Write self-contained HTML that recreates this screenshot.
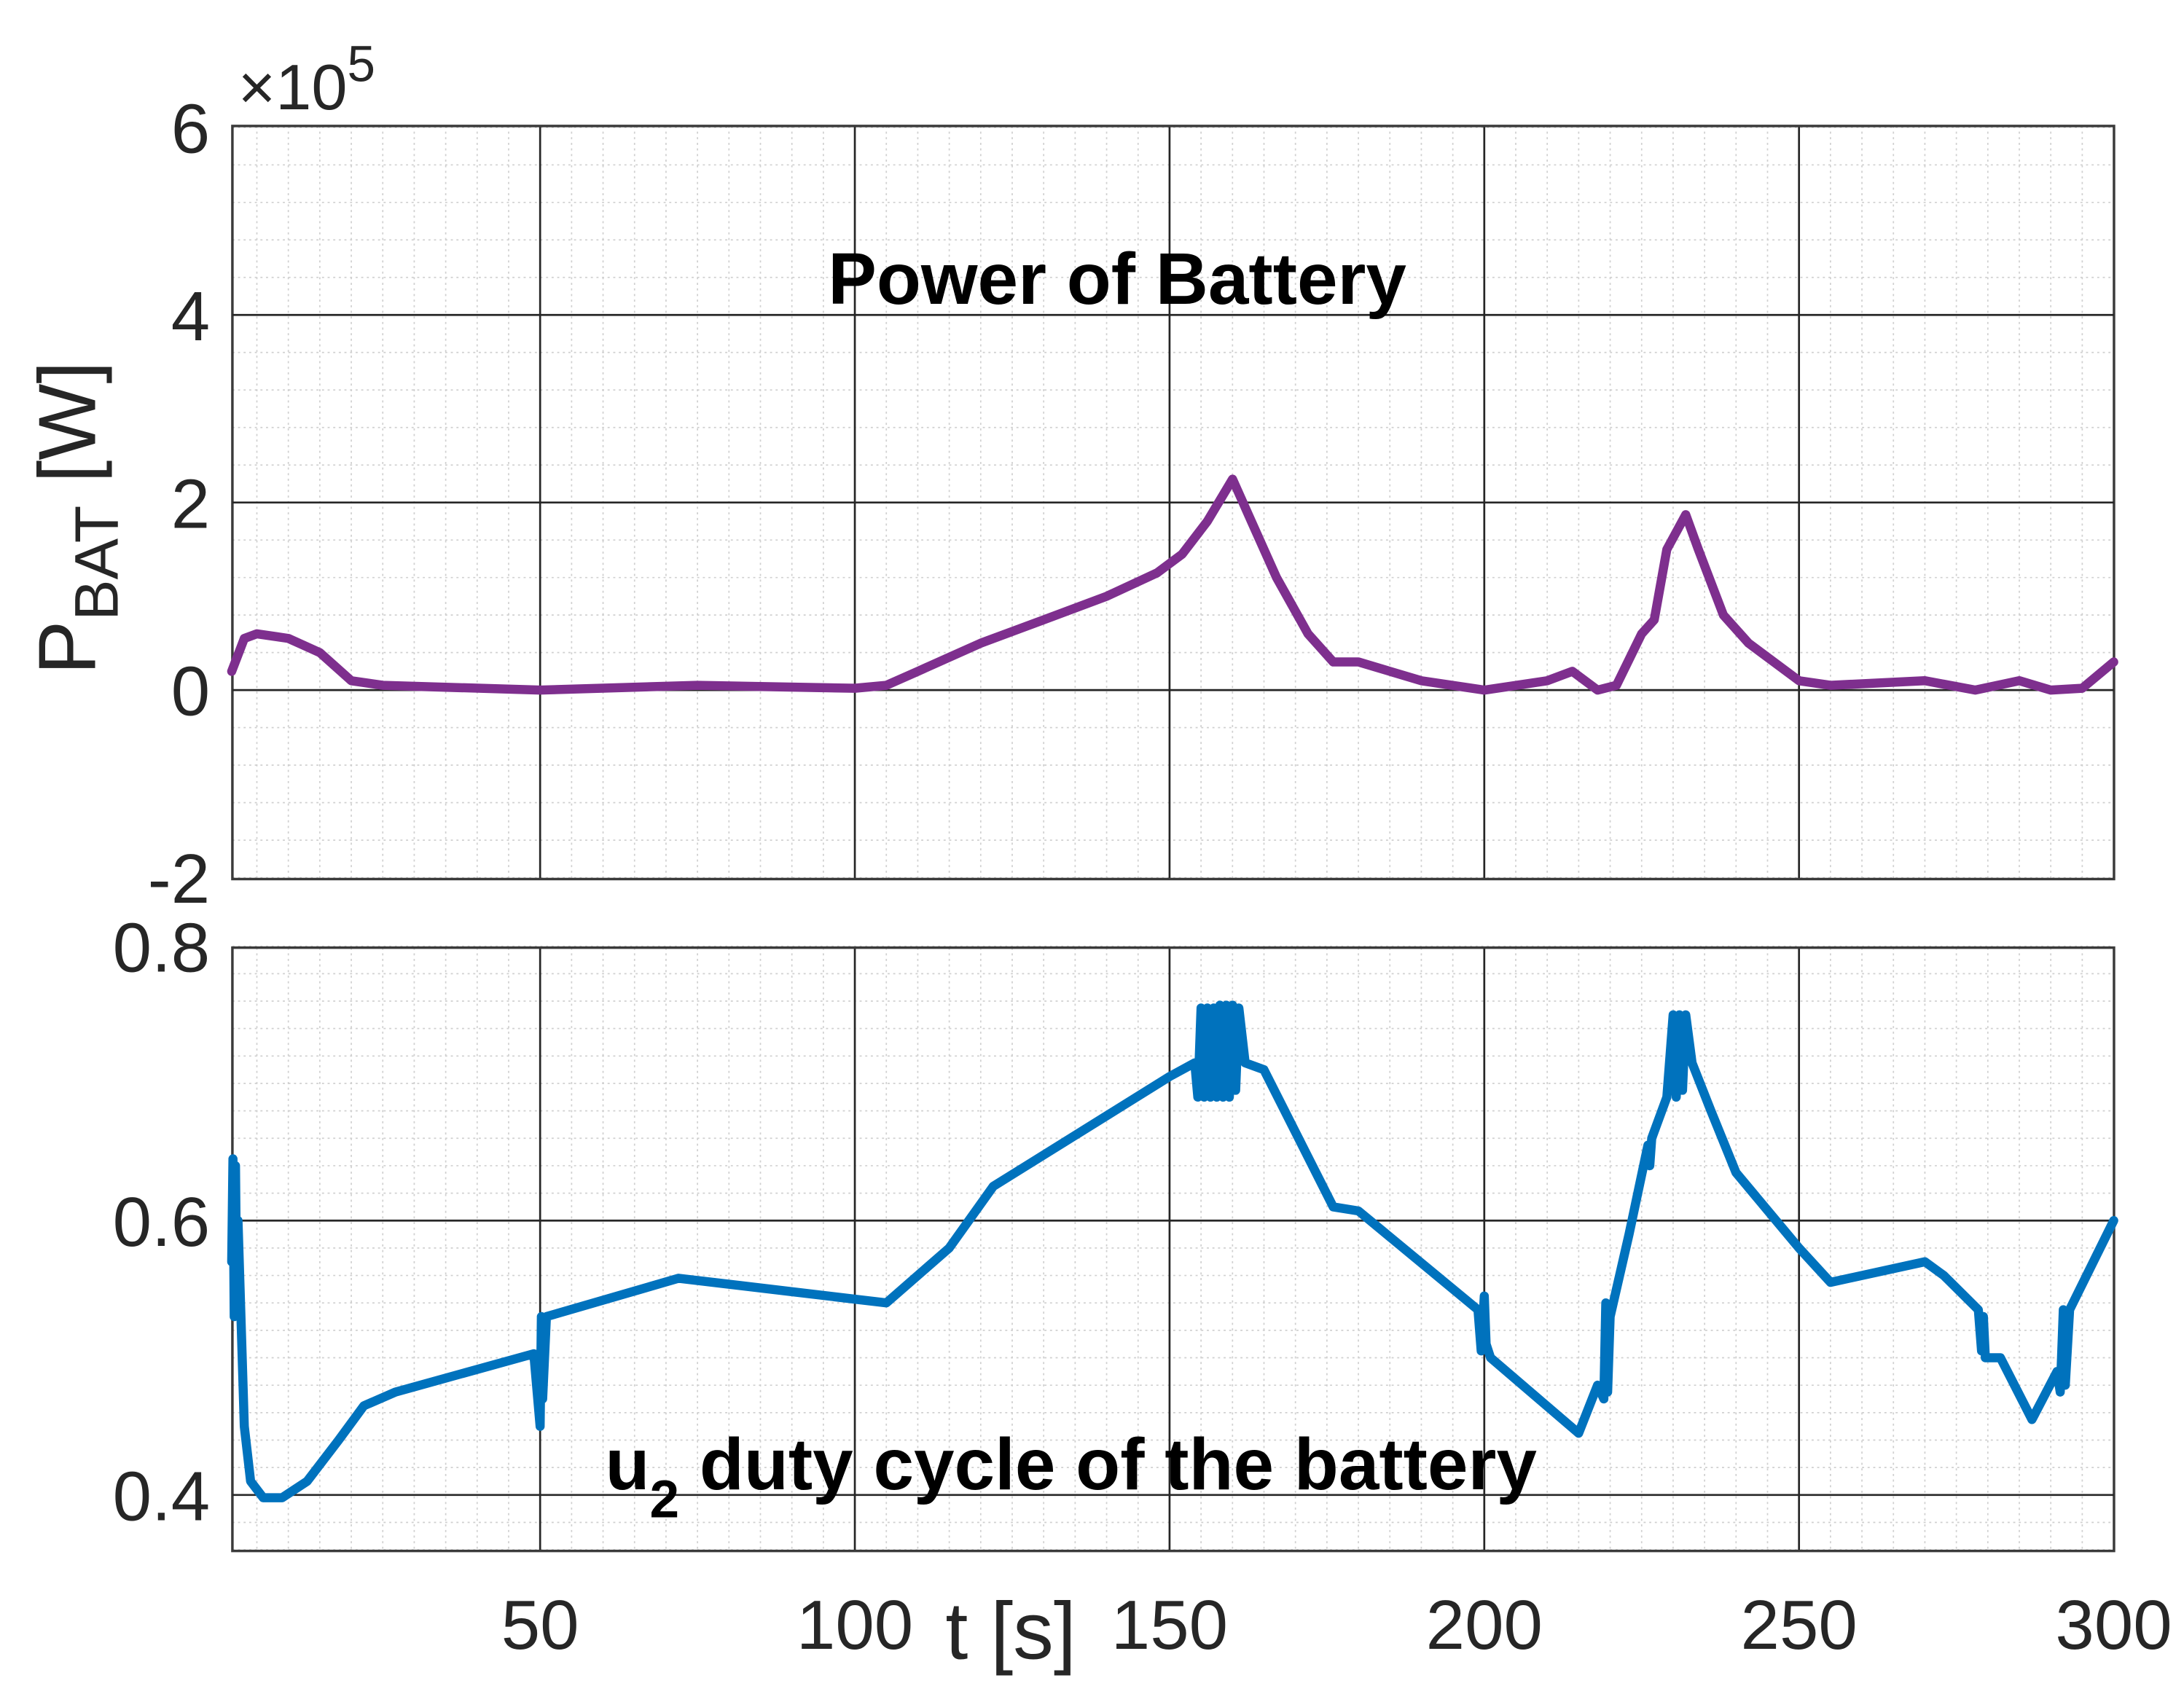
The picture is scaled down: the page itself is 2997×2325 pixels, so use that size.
<!DOCTYPE html>
<html><head><meta charset="utf-8"><style>
html,body{margin:0;padding:0;background:#fff;}
svg{display:block;}
text{font-family:"Liberation Sans",Arial,sans-serif;}
</style></head><body>
<svg id="chart" width="2997" height="2325" viewBox="0 0 1560 1210.2" xmlns="http://www.w3.org/2000/svg">
<g id="grid"></g>
<g id="series"></g>
<g id="labels"></g>
</svg>
<script>
// ---- data ----
const xTicks = [50,100,150,200,250,300];
const topYTicks = [-2,0,2,4,6];
const botYTicks = [0.4,0.6,0.8];
const botYTickLabels = ["0.4","0.6","0.8"];
const pT = [1,3,5,10,15,20,25,50,75,100,105,110,120,130,140,148,152,156,160,163,167,172,176,180,190,200,210,214,218,221,225,227,229,232,234,238,242,250,255,270,278,285,290,295,300];
const pV = [0.2,0.55,0.6,0.55,0.4,0.1,0.05,0,0.05,0.02,0.05,0.2,0.5,0.75,1.0,1.25,1.45,1.8,2.25,1.8,1.2,0.6,0.3,0.3,0.1,0,0.1,0.2,0,0.05,0.6,0.75,1.5,1.87,1.5,0.8,0.5,0.1,0.05,0.1,0,0.1,0,0.02,0.3];
const uT = [1,1.2,1.4,1.6,1.8,2,3,4,6,9,13,18,22,27,49,50,50.2,50.4,51,72,105,115,122,150,154,154.5,155,155.5,156,156.5,157,157.5,158,158.5,159,159.5,160,160.5,161,162,165,176,180,199,199.5,200,200.3,201,215,218,219,219.3,219.6,220,223,226,226.3,226.6,229,230,230.5,231,231.5,232,233,236,240,250,255,270,273,278.5,279,279.3,279.6,282,287,291,291.5,292,292.3,293,300];
const uV = [0.57,0.645,0.53,0.64,0.54,0.6,0.45,0.41,0.398,0.398,0.41,0.44,0.465,0.475,0.503,0.45,0.53,0.47,0.53,0.558,0.54,0.58,0.625,0.705,0.715,0.69,0.755,0.69,0.755,0.69,0.755,0.69,0.757,0.69,0.757,0.69,0.757,0.695,0.755,0.715,0.71,0.61,0.607,0.535,0.505,0.545,0.51,0.5,0.445,0.48,0.47,0.54,0.475,0.53,0.59,0.655,0.64,0.66,0.69,0.75,0.69,0.75,0.695,0.75,0.715,0.68,0.635,0.58,0.555,0.57,0.56,0.535,0.505,0.53,0.5,0.5,0.455,0.49,0.475,0.535,0.48,0.535,0.6];

const NS="http://www.w3.org/2000/svg";
const L=166,R=1510;
const xs=t=>161+t*4.496;
const yTop=v=>493-v*67;
const yBot=v=>872-(v-0.6)*980;
const T1=90,B1=628,T2=677,B2=1108;
function mk(tag,attrs,parent){const e=document.createElementNS(NS,tag);for(const k in attrs)e.setAttribute(k,attrs[k]);parent.appendChild(e);return e;}
const grid=document.getElementById('grid'),series=document.getElementById('series'),labels=document.getElementById('labels');

function panel(top,bot,yfn,ymin,ymax,minorStep,name){
  for(let t=5;t<300;t+=5){const x=xs(t);if(x<=L)continue;if(t%50===0)continue;
    const g=mk('line',{x1:x,x2:x,y1:top,y2:bot,stroke:'#d0d0d0','stroke-width':0.9,'stroke-dasharray':'1.5 2.5'},grid);
    }
  for(let v=ymin;v<=ymax+1e-9;v+=minorStep){const y=yfn(v);
    const g=mk('line',{x1:L,x2:R,y1:y,y2:y,stroke:'#d0d0d0','stroke-width':0.9,'stroke-dasharray':'1.5 2.5'},grid);
    }
  xTicks.forEach(t=>{const x=xs(t);if(t>=300)return;
    const g=mk('line',{x1:x,x2:x,y1:top,y2:bot,stroke:'#262626','stroke-width':1.4},grid);
    });
  const b=mk('rect',{x:L,y:top,width:R-L,height:bot-top,fill:'none',stroke:'#3a3a3a','stroke-width':1.8},grid);
  
}
panel(T1,B1,yTop,-2,6,0.4,'top');
panel(T2,B2,yBot,0.36,0.8,0.02,'bottom');
topYTicks.forEach(v=>{const y=yTop(v);
  if(v>-2&&v<6){const g=mk('line',{x1:L,x2:R,y1:y,y2:y,stroke:'#262626','stroke-width':1.4},grid);
  }
  const t=mk('text',{x:150,y:y+18,'text-anchor':'end','font-size':50,fill:'#262626'},labels);t.textContent=String(v);
  });
botYTicks.forEach((v,i)=>{const y=yBot(v);
  if(v<0.8){const g=mk('line',{x1:L,x2:R,y1:y,y2:y,stroke:'#262626','stroke-width':1.4},grid);
  }
  const t=mk('text',{x:150,y:y+18,'text-anchor':'end','font-size':50,fill:'#262626'},labels);t.textContent=botYTickLabels[i];
  });
xTicks.forEach(v=>{const t=mk('text',{x:xs(v),y:1178,'text-anchor':'middle','font-size':50,fill:'#262626'},labels);t.textContent=String(v);
  });

function line(T,V,yfn,color,name){
  const d=T.map((t,i)=>(i?'L':'M')+xs(t).toFixed(1)+','+yfn(V[i]).toFixed(1)).join(' ');
  const p=mk('path',{d:d,fill:'none',stroke:color,'stroke-width':6.5,'stroke-linejoin':'round','stroke-linecap':'round'},series);
  
}
line(pT,pV,yTop,'#7E2F8E','battery-power-line');
line(uT,uV,yBot,'#0072BD','duty-cycle-line');
</script>
<svg style="position:absolute;left:0;top:0" width="2997" height="2325" viewBox="0 0 1560 1210.2" xmlns="http://www.w3.org/2000/svg">
<text x="170" y="78" font-size="46" fill="#262626" font-family="Liberation Sans, sans-serif">×10<tspan dy="-20" font-size="36">5</tspan></text>
<text x="798" y="217" text-anchor="middle" font-size="52" font-weight="bold" fill="#000" font-family="Liberation Sans, sans-serif">Power of Battery</text>
<text x="765" y="1064" text-anchor="middle" font-size="52" font-weight="bold" fill="#000" font-family="Liberation Sans, sans-serif">u<tspan dy="20" font-size="38">2</tspan><tspan dy="-20"> duty cycle of the battery</tspan></text>
<text x="722" y="1185" text-anchor="middle" font-size="58" fill="#262626" font-family="Liberation Sans, sans-serif">t [s]</text>
<text transform="translate(68,370) rotate(-90)" text-anchor="middle" font-size="58" fill="#262626" font-family="Liberation Sans, sans-serif">P<tspan dy="16" font-size="44">BAT</tspan><tspan dy="-16"> [W]</tspan></text>
</svg>
</body></html>
